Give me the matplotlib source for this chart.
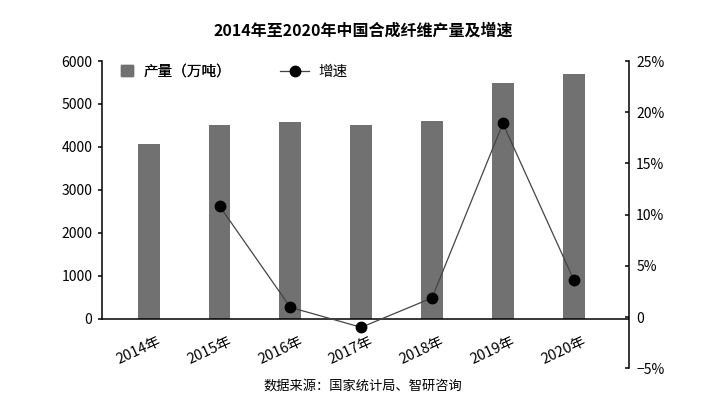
import numpy as np
import matplotlib
matplotlib.use('Agg')
import matplotlib.pyplot as plt
import matplotlib.transforms as mtransforms
from matplotlib.patches import Patch
from matplotlib.lines import Line2D

plt.rcParams['font.family'] = ['Noto Sans CJK SC', 'DejaVu Sans']
plt.rcParams['axes.unicode_minus'] = True

years = ['2014年', '2015年', '2016年', '2017年', '2018年', '2019年', '2020年']
output = [4072, 4508, 4578, 4508, 4601, 5478, 5688]          # 万吨
growth_years = [1, 2, 3, 4, 5, 6]
growth = [10.85, 0.95, -1.0, 1.87, 18.9, 3.65]               # %

left_ticks = [0, 1000, 2000, 3000, 4000, 5000, 6000]
right_ticks = [-5, 0, 5, 10, 15, 20, 25]

bar_color = '#717171'

fig = plt.figure(figsize=(7.26, 4.17), dpi=100)
ax = fig.add_axes([0.1405, 0.1168, 0.7263, 0.7369])
ax2 = ax.twinx()

x = np.arange(len(years))
ax.bar(x, output, width=0.31, color=bar_color, zorder=2)
ax.set_xlim(-0.659, 6.785)
ax.set_ylim(-1160, 6000)
ax.axhline(0, color='black', lw=1.1, zorder=3)

ax2.plot(growth_years, growth, color='#444444', lw=0.9, marker='o',
         markersize=7.5, markerfacecolor='black', markeredgecolor='black', zorder=4)
ax2.set_ylim(-5, 25)

# spines
for s in ['top', 'bottom', 'right']:
    ax.spines[s].set_visible(False)
for s in ['top', 'bottom', 'left']:
    ax2.spines[s].set_visible(False)
ax.spines['left'].set_bounds(0, 6000)
ax.spines['left'].set_linewidth(1.1)
ax2.spines['right'].set_linewidth(1.1)

ax.set_yticks(left_ticks)
ax.set_yticklabels([str(v) for v in left_ticks])
ax.tick_params(axis='y', direction='out', length=3, width=1.1, pad=4, labelsize=10)

ax2.set_yticks(right_ticks)
ax2.set_yticklabels(['0' if v == 0 else f'{v}%'.replace('-', '\u2212') for v in right_ticks])
ax2.tick_params(axis='y', direction='in', length=3, width=1.1, pad=5, labelsize=10)

# category labels sit under the zero line, rotated
ax.set_xticks([])
offset = mtransforms.ScaledTranslation(-10 / 100, -32 / 100, fig.dpi_scale_trans)
for xi, lab in zip(x, years):
    ax.text(xi, 0, lab, rotation=25, ha='center', va='center', fontsize=10.5,
            transform=ax.transData + offset)

# legends
leg1 = ax.legend(handles=[Patch(color=bar_color)], labels=['产量（万吨）'],
                 loc='upper left', bbox_to_anchor=(0.012, 1.03), frameon=False,
                 handlelength=0.8, handleheight=0.8, handletextpad=0.7, fontsize=10.5)
ax.add_artist(leg1)
ax2.legend(handles=[Line2D([], [], color='#444444', lw=0.9, marker='o', markersize=7.5,
                           markerfacecolor='black', markeredgecolor='black')],
           labels=['增速'], loc='upper left', bbox_to_anchor=(0.313, 1.03), frameon=False,
           handlelength=2.0, handletextpad=0.6, fontsize=10.5)

fig.text(0.5, 0.927, '2014年至2020年中国合成纤维产量及增速', ha='center', va='center',
         fontsize=11.5, fontweight='bold')
fig.text(0.5, 0.074, '数据来源：国家统计局、智研咨询', ha='center', va='center', fontsize=9.5)

fig.savefig('out.png', dpi=100)
